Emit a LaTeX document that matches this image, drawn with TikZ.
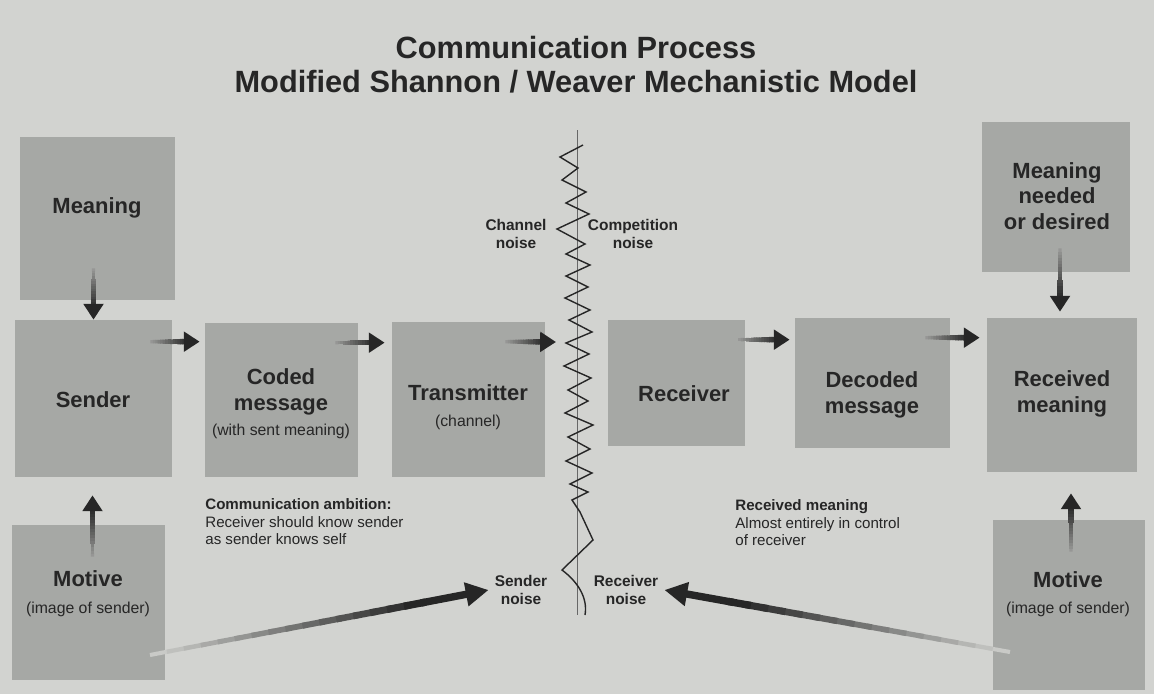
\documentclass[tikz,border=0pt]{standalone}
\usepackage{fontspec}
\setmainfont{Liberation Sans}
\usetikzlibrary{arrows.meta,calc}

\definecolor{paper}{RGB}{210,211,208}
\definecolor{boxgray}{RGB}{166,168,165}
\definecolor{ink}{RGB}{38,38,38}

\tikzset{
 box/.style={fill=boxgray,inner sep=0pt},
 lbl/.style={text=ink,align=center,font=\bfseries\fontsize{12.5}{14.5}\selectfont},
 noiselbl/.style={text=ink,align=center,font=\bfseries\fontsize{8.8}{10.5}\selectfont},
 note/.style={text=ink,align=left,anchor=west,inner sep=0pt,font=\fontsize{8.6}{10}\selectfont},
 tip/.style={-{Triangle[length=9pt,width=11pt]}},
 bigtip/.style={-{Triangle[length=13pt,width=13pt]}}
}
% shaft fading in from the tail: #1 start shade, #2 tail, #3 head, #4 width, #5 tip style
\newcommand\fadearrow[5]{%
 \foreach \k in {0,...,15}{%
  \pgfmathsetmacro\ta{\k*0.05}%
  \pgfmathsetmacro\tb{(\k+1.3)*0.05}%
  \pgfmathtruncatemacro\p{#1+(100-#1)*\k/15}%
  \pgfmathsetmacro\w{#4*(0.55+0.45*\k/15)}%
  \draw[line width=\w pt,draw=ink!\p!paper] ($(#2)!\ta!(#3)$) -- ($(#2)!\tb!(#3)$);
 }%
 \draw[line width=#4pt,ink,#5] ($(#2)!0.8!(#3)$) -- (#3);
}
\newcommand\sub[1]{{\mdseries\fontsize{9}{11}\selectfont #1}}

\begin{document}
\begin{tikzpicture}[x=0.02cm,y=-0.02cm]
 \useasboundingbox[fill=paper](0,0) rectangle (1154,694);
 \node[text=ink,align=center,font=\bfseries\fontsize{17.5}{19.5}\selectfont] (title) at (576,65) {Communication Process\\Modified Shannon / Weaver Mechanistic Model};

 % the boxes
 \node[box,minimum width=3.1cm,minimum height=3.26cm] (meaning) at (97.5,218.5) {};
 \node[box,minimum width=3.14cm,minimum height=3.14cm] (sender) at (93.5,398.5) {};
 \node[box,minimum width=3.06cm,minimum height=3.08cm] (coded) at (281.5,400) {};
 \node[box,minimum width=3.06cm,minimum height=3.1cm] (trans) at (468.5,399.5) {};
 \node[box,minimum width=2.74cm,minimum height=2.52cm] (receiver) at (676.5,383) {};
 \node[box,minimum width=3.1cm,minimum height=2.6cm] (decoded) at (872.5,383) {};
 \node[box,minimum width=3cm,minimum height=3.08cm] (recmean) at (1062,395) {};
 \node[box,minimum width=2.96cm,minimum height=3cm] (needed) at (1056,197) {};
 \node[box,minimum width=3.06cm,minimum height=3.1cm] (motiveL) at (88.5,602.5) {};
 \node[box,minimum width=3.04cm,minimum height=3.4cm] (motiveR) at (1069,605) {};

 \node[lbl] (meaningtxt) at (97,208) {Meaning};
 \node[lbl] (sendertxt) at (93,400) {Sender};
 \node[lbl] (codedtxt) at (281,404) {Coded\\message\\\sub{(with sent meaning)}};
 \node[lbl] (transtxt) at (468,407) {Transmitter\\\sub{(channel)}};
 \node[lbl] (receivertxt) at (684,394) {Receiver};
 \node[lbl] (decodedtxt) at (872,395) {Decoded\\message};
 \node[lbl] (recmeantxt) at (1062,394) {Received\\meaning};
 \node[lbl] (neededtxt) at (1057,196) {Meaning\\needed\\or desired};
 \node[lbl] (motiveLtxt) at (88,594) {Motive\\[1pt]\sub{(image of sender)}};
 \node[lbl] (motiveRtxt) at (1068,594) {Motive\\\sub{(image of sender)}};

 % noise line
 \coordinate (ltop) at (577,130);
 \coordinate (lbot) at (577,615);
 \draw[ink!70,line width=0.5pt] (ltop) -- (lbot);
 \draw[ink,line width=0.8pt,line join=miter] plot coordinates {(583,145) (560,157) (578,168) (562,180) (586,192) (566,203) (589,214) (557,229) (585,244) (566,254) (590,265) (566,276) (588,287) (565,298) (590,310) (569,320) (592,332) (566,343) (589,354) (564,366) (591,378) (568,390) (588,401) (565,413) (593,425) (568,437) (590,449) (566,461) (592,473) (570,484) (588,492) (572,500) (580,512) (593,540) (562,570)}
  .. controls (578,582) and (588,598) .. (585,615);

 \node[noiselbl] (chnoise) at (516,234) {Channel\\noise};
 \node[noiselbl] (compnoise) at (633,234) {Competition\\noise};
 \node[noiselbl] (sndnoise) at (521,590) {Sender\\noise};
 \node[noiselbl] (rcvnoise) at (626,590) {Receiver\\noise};

 \node[note] (ambition) at (205,522) {\textbf{Communication ambition:}\\Receiver should know sender\\as sender knows self};
 \node[note] (control) at (735,523) {\textbf{Received meaning}\\Almost entirely in control\\of receiver};

 % arrows
 \coordinate (a1) at ([shift={(-22,22)}]sender.north east);
 \coordinate (b1) at ([shift={(-5,19)}]coded.north west);
 \coordinate (a2) at ([shift={(-23,20)}]coded.north east);
 \coordinate (b2) at ([shift={(-7,21)}]trans.north west);
 \coordinate (a3) at ([shift={(-40,20)}]trans.north east);
 \coordinate (b3) at (556,342);
 \coordinate (a4) at ([shift={(-7,20)}]receiver.north east);
 \coordinate (b4) at ([shift={(-5,22)}]decoded.north west);
 \coordinate (a5) at ([shift={(-25,20)}]decoded.north east);
 \coordinate (b5) at ([shift={(-7,20)}]recmean.north west);
 \coordinate (a6) at ([shift={(-4,-32)}]meaning.south);
 \coordinate (b6) at (sender.north);
 \coordinate (a7) at ([shift={(4,-24)}]needed.south);
 \coordinate (b7) at ([shift={(-2,-6)}]recmean.north);
 \coordinate (a8) at ([shift={(4,32)}]motiveL.north);
 \coordinate (b8) at ([shift={(-1,18)}]sender.south);
 \coordinate (a9) at ([shift={(2,32)}]motiveR.north);
 \coordinate (b9) at ([shift={(9,21)}]recmean.south);
 \coordinate (a10) at (150,655);
 \coordinate (a11) at (1010,652);

 \fadearrow{35}{a1}{b1}{3.4}{tip}
 \fadearrow{35}{a2}{b2}{3.4}{tip}
 \fadearrow{35}{a3}{b3}{3.4}{tip}
 \fadearrow{35}{a4}{b4}{3.4}{tip}
 \fadearrow{35}{a5}{b5}{3.4}{tip}
 \fadearrow{35}{a6}{b6}{3.4}{tip}
 \fadearrow{35}{a7}{b7}{3.4}{tip}
 \fadearrow{35}{a8}{b8}{3.4}{tip}
 \fadearrow{35}{a9}{b9}{3.4}{tip}
 \fadearrow{5}{a10}{sndnoise.west}{4.2}{bigtip}
 \fadearrow{5}{a11}{rcvnoise.east}{4.2}{bigtip}
\end{tikzpicture}
\end{document}
